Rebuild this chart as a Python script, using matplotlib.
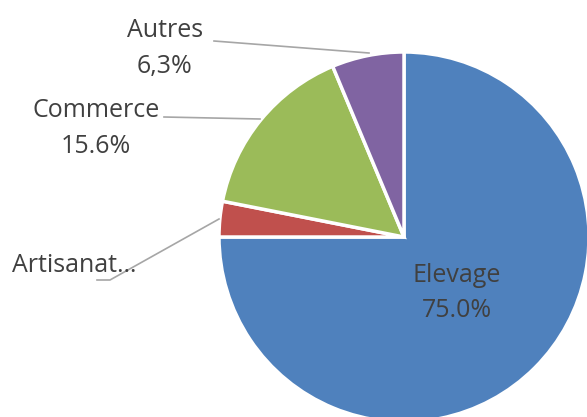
import matplotlib.pyplot as plt

# valeurs
categories = ['Elevage', 'Artisanat', 'Commerce', 'Autres']
valeurs = [75.0, 3.1, 15.6, 6.3]
etiquettes_pct = ['75.0%', '', '15.6%', '6,3%']
couleurs = ['#4F81BD', '#C0504D', '#9BBB59', '#8064A2']

W, H = 587, 417


def Y(y):
    # coordonnees image (haut -> bas) vers axes
    return H - y


fig = plt.figure(figsize=(W / 100, H / 100), dpi=100)
ax = fig.add_axes([0, 0, 1, 1])

ax.pie(valeurs, colors=couleurs, startangle=90, counterclock=False,
       center=(404, Y(237)), radius=185,
       wedgeprops=dict(edgecolor='white', linewidth=2.5))

ax.set_xlim(0, W)
ax.set_ylim(0, H)
ax.set_aspect('equal')
ax.axis('off')

txt = dict(fontsize=18, color='#404040', family=['Open Sans', 'DejaVu Sans'])
gris = '#A6A6A6'

# Elevage (dans la part)
ax.text(457, Y(282), categories[0], ha='center', va='baseline', **txt)
ax.text(457, Y(317), etiquettes_pct[0], ha='center', va='baseline', **txt)

# Autres
ax.text(165, Y(37), categories[3], ha='center', va='baseline', **txt)
ax.text(165, Y(73), etiquettes_pct[3], ha='center', va='baseline', **txt)
ax.plot([214, 369], [Y(41), Y(53)], color=gris, lw=1.2)

# Commerce
ax.text(96, Y(117), categories[2], ha='center', va='baseline', **txt)
ax.text(96, Y(153), etiquettes_pct[2], ha='center', va='baseline', **txt)
ax.plot([164, 260], [Y(117), Y(119)], color=gris, lw=1.2)

# Artisanat (etiquette tronquee)
ax.text(12, Y(272), categories[1] + '\u2026', ha='left', va='baseline', **txt)
ax.plot([97, 110, 219], [Y(280), Y(280), Y(219)], color=gris, lw=1.2)

fig.savefig('out.png', dpi=100)
